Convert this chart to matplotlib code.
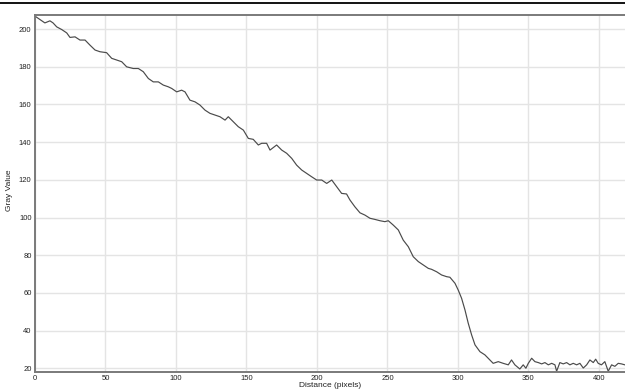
import numpy as np
import matplotlib
matplotlib.use("Agg")
import matplotlib.pyplot as plt
from matplotlib.lines import Line2D

plt.rcParams['font.family'] = ['Liberation Sans', 'DejaVu Sans']

# profile along the line: distance (pixels) and gray value
distance = [
    0, 3.5, 7, 10.6, 12.8, 15.4, 18.9, 22.5, 24.8, 28.4, 31.9, 35.5, 39, 42.6, 46.1,
    50.8, 54.4, 58, 61.5, 65, 69.7, 73.3, 76.8, 80.4, 83.9, 87.5, 91, 94.5, 97,
    100.5, 104, 106.4, 109.9, 113.5, 117, 120.6, 124.1, 127.7, 131.2, 134.8, 137.1,
    140.7, 144.2, 147.8, 151.3, 154.8, 158.4, 160.8, 164.3, 166.7, 171.4, 175, 178.5,
    182.1, 185.6, 189.2, 192.7, 196.3, 199.8, 203.4, 206.9, 210.5, 214, 217.5, 221,
    223.4, 226.9, 230.5, 234, 237.6, 241.1, 244.7, 248.2, 250.6, 254.1, 257.7, 261.2,
    264.8, 268.3, 271.9, 275.4, 279, 281.3, 284.9, 288.4, 292, 294.3, 297.9, 300.2,
    302.6, 305, 307.3, 309.7, 312.1, 315.6, 319.1, 322.7, 325, 328.6, 332.1, 335.7,
    338, 340.4, 343.9, 346.3, 348.2, 349.9, 352.3, 354.6, 357, 359.4, 361.7, 364.1,
    366.5, 368.8, 370, 372.3, 374.7, 377.1, 379.4, 381.8, 384.2, 386.5, 388.9, 391.3,
    393.6, 396, 397.7, 399.5, 401.8, 404.2, 406.6, 409, 411.3, 413.7, 416, 418.4,
]
gray = [
    206.9, 205.1, 203.3, 204.4, 203.3, 201.2, 199.8, 198.0, 195.6, 195.9, 194.2, 194.2,
    191.5, 188.9, 188.0, 187.5, 184.5, 183.6, 182.7, 180.0, 179.1, 179.1, 177.4, 173.8,
    172.0, 172.0, 170.3, 169.4, 168.5, 166.7, 167.6, 166.7, 162.3, 161.4, 159.7, 157.0,
    155.3, 154.4, 153.5, 151.7, 153.5, 150.8, 148.2, 146.4, 142.0, 141.5, 138.5, 139.4,
    139.4, 135.8, 138.5, 135.8, 134.1, 131.4, 127.8, 125.2, 123.4, 121.6, 119.9, 119.9,
    118.1, 119.9, 116.3, 112.8, 112.5, 109.3, 105.7, 102.5, 101.3, 99.6, 99.0, 98.3,
    97.8, 98.3, 96.0, 93.4, 88.0, 84.5, 79.2, 76.6, 74.8, 73.0, 72.5, 71.2, 69.5, 68.6,
    68.3, 65.1, 61.5, 57.1, 50.9, 43.9, 37.7, 32.4, 28.8, 27.1, 24.4, 22.6, 23.5, 22.6,
    21.8, 24.4, 21.8, 19.6, 21.8, 20.0, 22.6, 25.3, 23.5, 23.0, 22.3, 23.0, 21.8, 22.6,
    21.8, 18.4, 23.0, 22.3, 23.0, 21.8, 22.6, 21.8, 22.6, 20.1, 21.8, 24.4, 23.0, 24.8,
    22.6, 21.8, 23.5, 18.4, 21.8, 21.0, 22.6, 22.3, 21.8,
]
x_ticks = [0, 50, 100, 150, 200, 250, 300, 350, 400]
y_ticks = [20, 40, 60, 80, 100, 120, 140, 160, 180, 200]

W, H = 625, 391
fig = plt.figure(figsize=(W / 100, H / 100), dpi=100)
ax = fig.add_axes([35 / W, (H - 372) / H, (W - 35) / W, (372 - 15) / H])

ax.plot(distance, gray, color='#4a4a4a', lw=0.85)

ax.set_xlim(0, 418.5)
ax.set_ylim(18, 207.5)
ax.set_xticks(x_ticks)
ax.set_yticks(y_ticks)
ax.grid(True, color='#e4e4e4', lw=1.0)
ax.set_axisbelow(True)
ax.tick_params(length=0, labelsize=5.5, colors='#222222')
ax.tick_params(axis='y', pad=2.5)
ax.tick_params(axis='x', pad=2)

for side in ['left', 'top', 'bottom']:
    ax.spines[side].set_color('#7a7a7a')
    ax.spines[side].set_linewidth(1.4)
ax.spines['right'].set_visible(False)

# axis titles placed in figure pixels
fig.text(330 / W, 1 - 385.5 / H, 'Distance (pixels)', fontsize=6, color='#222222',
         ha='center', va='center')
fig.text(10 / W, 1 - 190 / H, 'Gray Value', fontsize=6, color='#222222',
         ha='center', va='center', rotation=90)

# black rule across the very top
fig.add_artist(Line2D([0, 1], [1 - 2.7 / H] * 2, color='black', lw=1.3,
                      transform=fig.transFigure))

plt.savefig('out.png', dpi=100)
